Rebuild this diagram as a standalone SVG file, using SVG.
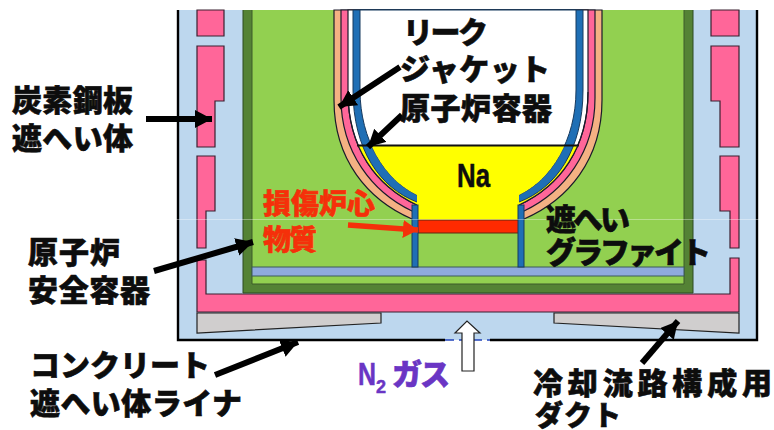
<svg xmlns="http://www.w3.org/2000/svg" width="774" height="430" viewBox="0 0 774 430">
<style>
.ol{stroke:#1a1a2a;stroke-width:1.2}
.pk{fill:#ff6699;stroke:#3a2030;stroke-width:1.2}
.lb{fill:#bdd7ee}
.gr{fill:#d0cece;stroke:#222;stroke-width:1.2}
.t{font-family:"Noto Sans CJK JP","Noto Sans",sans-serif;font-weight:900;font-size:30px;fill:#0d0d0d;stroke:#0d0d0d;stroke-width:.6}
.r{fill:#f5300a;stroke:#f5300a}
.p{fill:#6a35c4;stroke:#6a35c4}
.l{font-family:"Liberation Sans",sans-serif;font-weight:700;stroke-width:.5}
.a{fill:none;stroke:#000;stroke-width:6;marker-end:url(#ah)}
</style>
<defs>
<marker id="ah" markerUnits="userSpaceOnUse" markerWidth="20" markerHeight="20" refX="17" refY="9" orient="auto"><path d="M0,0L17,9L0,18z" fill="#000"/></marker>
<marker id="ahr" markerUnits="userSpaceOnUse" markerWidth="20" markerHeight="20" refX="15" refY="9" orient="auto"><path d="M0,0L15,9L0,18z" fill="#f5300a"/></marker>
<clipPath id="na"><rect x="330" y="146" width="275" height="80"/></clipPath>
</defs>
<rect width="774" height="430" fill="#fff"/>
<g id="concrete-liner">
<path class="lb" d="M178,10H757V340H178z"/>
<path d="M178,10V340H445M490,340H757V10" fill="none" stroke="#000" stroke-width="2.4"/>
<path d="M445,340H490" fill="none" stroke="#2244bb" stroke-width="1.6" stroke-dasharray="9 5"/>
</g>
<g id="carbon-steel-shield">
<path class="pk" d="M197,10H224V36H197z"/>
<path class="pk" d="M197,46H224V101H215V147H197z"/>
<path class="pk" d="M197,156H215V211H206V248H197z"/>
<path class="pk" d="M711,10H739V36H711z"/>
<path class="pk" d="M711,46H739V147H720V101H711z"/>
<path class="pk" d="M720,156H739V248H730V211H720z"/>
<path class="pk" d="M197,260H206V294H730V258H739V312H197z"/>
</g>
<g id="ducts">
<path class="gr" d="M197,313H381V323L197,333z"/>
<path class="gr" d="M554,313H739V333L554,323z"/>
</g>
<g id="safety-vessel">
<path d="M243,10H693V293H243z" fill="#548235"/>
<path d="M243,10V293H693V10" fill="none" stroke="#2d4a22" stroke-width="1"/>
<path d="M252,10H684V284H252z" fill="#92d050"/>
<path d="M252,10V284H684V10" fill="none" stroke="#3d5a2a" stroke-width="1"/>
</g>
<g id="graphite-plate">
<rect x="252" y="267" width="432" height="9" fill="#8faadc" stroke="#3d5a5a" stroke-width="1"/>
</g>
<g id="reactor-vessel">
<path class="ol" fill="#f4b183" d="M334,10V100C334,160 368,200 412,219H524C568,200 602,160 602,100V10z"/>
<path class="ol" fill="#ff6699" d="M341,10V98C341,152 372,192 412,211H524C564,192 595,152 595,98V10z"/>
<path class="ol" fill="#fff" d="M348,10V92C348,148 376,186 417,205H519C560,186 588,148 588,92V10z"/>
<path fill="#ffff00" clip-path="url(#na)" d="M348,10V92C348,148 376,186 417,205H519C560,186 588,148 588,92V10z"/>
<path class="ol" fill="none" d="M348,92C348,148 376,186 417,205M519,205C560,186 588,148 588,92"/>
<path fill="#1f6fb5" stroke="#173a5e" stroke-width="1" d="M353,10V90C353,150 380,188 417,202H519C556,188 583,150 583,90V10z"/>
<path fill="#fff" stroke="#173a5e" stroke-width="1" d="M360,10V90C360,140 385,180 417,195H519C551,180 576,140 576,90V10z"/>
<path fill="#ffff00" clip-path="url(#na)" d="M360,10V90C360,140 385,180 417,195V222H519V195C551,180 576,140 576,90V10z"/>
<path d="M357,145.500H579" stroke="#111" stroke-width="2" fill="none"/>
</g>
<g id="debris">
<rect x="417" y="220" width="102" height="13" fill="#ff2a00" stroke="#5a2a10" stroke-width="1"/>
<rect x="412" y="205" width="6" height="62" fill="#1f6fb5" stroke="#173a5e" stroke-width="1"/>
<rect x="518" y="205" width="6" height="62" fill="#1f6fb5" stroke="#173a5e" stroke-width="1"/>
</g>
<path d="M0,219.500H774" stroke="#fff" stroke-opacity=".35" stroke-width="1"/>
<g id="connectors">
<path class="a" d="M146,119H212"/>
<path class="a" d="M400,67L339,107"/>
<path class="a" d="M402,115L368,147"/>
<path class="a" d="M154,271L253,242"/>
<path class="a" d="M215,375L298,342"/>
<path class="a" d="M642,363L678,321"/>
<path d="M348,225L418,230" fill="none" stroke="#f5300a" stroke-width="5.500" marker-end="url(#ahr)"/>
<path d="M462,371V333H455L467,321L480,333H474V371z" fill="#fff" stroke="#222" stroke-width="1.200"/>
</g>
<g id="labels">
<text class="t" x="403" y="43" textLength="85">リーク</text>
<text class="t" x="400" y="80" textLength="150">ジャケット</text>
<text class="t" x="400" y="119" textLength="152">原子炉容器</text>
<text class="t l" x="457" y="187" textLength="33" lengthAdjust="spacingAndGlyphs" style="font-size:33px;font-family:'Liberation Sans',sans-serif">Na</text>
<text class="t" x="12" y="111" textLength="121">炭素鋼板</text>
<text class="t" x="12" y="149" textLength="121">遮へい体</text>
<text class="t" x="28" y="263" textLength="92">原子炉</text>
<text class="t" x="28" y="301" textLength="122">安全容器</text>
<text class="t r" style="font-size:28px" x="263" y="214" textLength="112">損傷炉心</text>
<text class="t r" style="font-size:28px" x="263" y="250" textLength="54">物質</text>
<text class="t" x="546" y="230" textLength="84">遮へい</text>
<text class="t" x="546" y="263" textLength="165">グラファイト</text>
<text class="t" x="30" y="376" textLength="180">コンクリート</text>
<text class="t" x="30" y="414" textLength="212">遮へい体ライナ</text>
<text class="t p l" x="358" y="385" style="font-size:31px;font-family:'Liberation Sans',sans-serif" textLength="18" lengthAdjust="spacingAndGlyphs">N</text>
<text class="t p l" x="376" y="393" style="font-size:18px;font-family:'Liberation Sans',sans-serif">2</text>
<text class="t p" x="392" y="385" textLength="58">ガス</text>
<text class="t" x="533" y="394" textLength="239">冷却流路構成用</text>
<text class="t" style="font-size:28px" x="535" y="426" textLength="86">ダクト</text>
</g>
</svg>
